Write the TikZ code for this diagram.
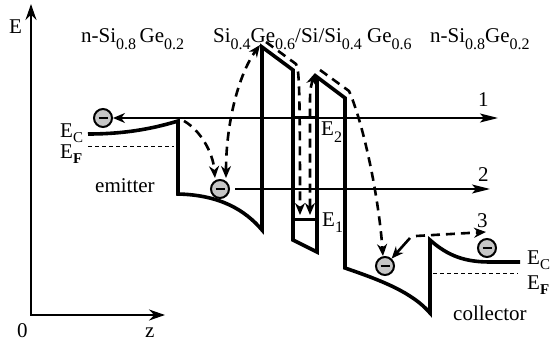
\documentclass[tikz,border=0pt]{standalone}
\usepackage{fontspec}
\setmainfont{Liberation Serif}
\usetikzlibrary{arrows.meta}
\newcommand\sbt[1]{\raisebox{-0.3em}{\fontsize{16}{16}\selectfont #1}}
\newcommand\sbl[1]{\raisebox{-0.2em}{\fontsize{15}{15}\selectfont #1}}
\begin{document}
\begin{tikzpicture}[x=1pt,y=-1pt,
  band/.style={line width=3.6pt, line join=miter},
  level/.style={line width=3pt},
  axis/.style={line width=2.2pt},
  thinarrow/.style={line width=1.4pt, -{Stealth[length=18pt,width=9pt,inset=4pt]}},
  dasharr/.style={line width=2.6pt, dash pattern=on 9pt off 6pt, -{Stealth[length=12pt,width=10pt]}},
  fermi/.style={line width=1pt, dash pattern=on 4pt off 3pt},
  lbl/.style={font=\fontsize{21}{25}\selectfont, inner sep=0pt, anchor=base west},
  electron/.style={circle, draw, line width=2pt, fill=gray!45, minimum size=18pt, inner sep=0pt,
    path picture={\draw[line width=2.6pt] ([xshift=-4.5pt]path picture bounding box.center) -- ([xshift=4.5pt]path picture bounding box.center);}},
]
\useasboundingbox (0,0) rectangle (550,345);

% axes
\coordinate (ytip) at (31,4);
\coordinate (orig) at (31,315);
\coordinate (xtip) at (165,315);
\draw[axis, {Stealth[length=16pt,width=11pt]}-{Stealth[length=16pt,width=11pt]}] (ytip) -- (orig) -- (xtip);
\node[lbl] (lE) at (9,34) {E};
\node[lbl] (l0) at (17,337) {0};
\node[lbl] (lz) at (145,337) {z};

% titles
\node[lbl] (t1) at (81,43) {n-Si\sbt{0.8}\,Ge\sbt{0.2}};
\node[lbl] (t2) at (213,43) {Si\sbt{0.4}Ge\sbt{0.6}/Si/Si\sbt{0.4} Ge\sbt{0.6}};
\node[lbl] (t3) at (430,43) {n-Si\sbt{0.8}Ge\sbt{0.2}};

% band profile
\coordinate (ecpk) at (178,121);
\coordinate (b1top) at (262,47);
\coordinate (b2top) at (317,77);
\draw[band] (88,134) .. controls (130,134) and (158,127) .. (ecpk) -- (178,194)
  .. controls (220,195) and (245,210) .. (262,230) -- (b1top) -- (293,70) -- (293,240)
  -- (317,252) -- (b2top) -- (345,98) -- (345,268)
  .. controls (380,280) and (412,292) .. (430,313) -- (430,240)
  .. controls (448,256) and (465,262) .. (490,262) -- (520,262);

% Fermi levels
\draw[fermi] (88,147) -- (174,147);
\draw[fermi] (433,273) -- (518,273);

% quantum levels
\draw[level] (293,118) -- (317,118);
\draw[level] (293,220) -- (317,220);

% labels
\node[lbl] (ec1) at (60,138) {E\sbl{C}};
\node[lbl] (ef1) at (60,159) {E\sbl{\textbf{F}}};
\node[lbl] (ec2) at (527,265) {E\sbl{C}};
\node[lbl] (ef2) at (527,290) {E\sbl{\textbf{F}}};
\node[lbl] (lE2) at (321,136) {E\sbt{2}};
\node[lbl] (lE1) at (322,226) {E\sbt{1}};
\node[lbl] (lem) at (95,193) {emitter};
\node[lbl] (lco) at (453,320) {collector};
\node[lbl] (n1) at (478,107) {1};
\node[lbl] (n2) at (478,182) {2};
\node[lbl] (n3) at (477,228) {3};

% electrons
\node[electron] (e1) at (103,118) {};
\node[electron] (e2) at (220,189) {};
\node[electron] (e3) at (385,266) {};
\node[electron] (e4) at (487,248) {};

% line 1
\coordinate (l1s) at (118,118);
\coordinate (l1e) at (498,118);
\coordinate (l1d) at (178,118);
\draw[thinarrow] (l1s) -- (l1e);
\draw[dasharr] (l1d) -- (e1);

% line 2
\coordinate (l2e) at (490,189);
\draw[thinarrow] ([xshift=5pt]e2.east) -- (l2e);

% paths into electron 2
\coordinate (e2a) at (215,178);
\coordinate (e2b) at (226,178);
\draw[dasharr] (184,121) .. controls (200,130) and (213,152) .. (e2a);
\draw[dasharr, {Stealth[length=12pt,width=10pt]}-{Stealth[length=12pt,width=10pt]}]
  (e2b) .. controls (226,120) and (240,72) .. (260,45);

% paths into the well
\draw[dasharr] (266,42) -- (296,64) .. controls (299,70) and (300,80) .. (300,215);
\draw[dasharr, {Stealth[length=12pt,width=10pt]}-{Stealth[length=12pt,width=10pt]}]
  (310,215) -- (310,100) .. controls (310,88) and (312,82) .. (315,73);

% path into the collector
\coordinate (e3a) at (383,256);
\draw[dasharr] (320,70) -- (349,91) .. controls (362,120) and (378,190) .. (e3a);
\coordinate (l3s) at (416,236);
\coordinate (l3e) at (486,232);
\coordinate (fs) at (410,238);
\draw[line width=2.6pt, -{Stealth[length=12pt,width=10pt]}] (fs) -- (e3);
\draw[dasharr] (l3s) -- (l3e);
\end{tikzpicture}
\end{document}
